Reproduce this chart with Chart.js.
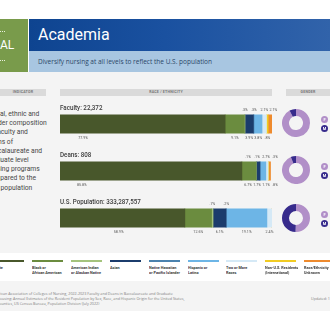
<!DOCTYPE html>
<html>
<head>
<meta charset="utf-8">
<script src="https://cdn.jsdelivr.net/npm/chart.js@4.4.0/dist/chart.umd.min.js"></script>
<style>
  html, body { margin: 0; padding: 0; width: 330px; height: 330px; overflow: hidden; background: #fff; }
  #page { position: relative; width: 330px; height: 330px; overflow: hidden; font-family: Roboto, "Open Sans", sans-serif; }
  .abs { position: absolute; }
  #main-bg { left: 0; top: 72px; width: 330px; height: 239px; background: #f4f4f4; }
  #goal { left: 0; top: 19px; width: 28px; height: 53px; background: #799b4b; color: #fff; font-size: 12px; line-height: 53px; }
  #goal .dots { position: absolute; left: 0; width: 5px; border-top: 1px dotted #e8f0dc; }
  #title { left: 29px; top: 19px; width: 301px; height: 32px; background: linear-gradient(90deg, #0e4490 0%, #1a51a0 45%, #3163aa 100%); }
  #title span { position: absolute; left: 9px; top: 6px; color: #fff; font-size: 16px; }
  #subtitle { left: 29px; top: 51px; width: 301px; height: 21px; background: #a8c6e1; }
  #subtitle span { position: absolute; left: 9px; top: 6px; color: #2b4768; font-family: "Open Sans", sans-serif; font-size: 6.5px; white-space: nowrap; }
  .sect { top: 89px; height: 7px; background: #dadada; color: #777; font-size: 3.6px; font-weight: bold; text-align: center; line-height: 7px; letter-spacing: 0.2px; }
  #indicator { left: -13px; top: 109px; font-size: 8px; line-height: 9.2px; color: #474747; white-space: nowrap; transform: scaleX(0.84); transform-origin: 0 0; }
  #bar-wrap { left: 40px; top: 95px; width: 250px; height: 150px; }
  .donut { width: 28px; height: 28px; left: 282px; }
  .badge { width: 7px; height: 7px; border-radius: 50%; color: #fff; font-size: 4px; font-weight: bold; text-align: center; line-height: 7px; left: 321px; }
  #legend-bg { left: 0; top: 253px; width: 330px; height: 28px; background: #fff; }
  .leg { top: 260px; width: 31px; }
  .leg .line { height: 2px; }
  .leg .txt { margin-top: 3px; font-size: 4.3px; line-height: 5px; font-weight: bold; color: #3a3a3a; white-space: nowrap; transform: scaleX(0.88); transform-origin: 0 0; }
  .foot { font-size: 3.7px; color: #808080; white-space: nowrap; font-family: "Open Sans", sans-serif; }
</style>
</head>
<body>
<div id="page">
  <div id="main-bg" class="abs"></div>
  <div id="goal" class="abs">AL
    <div class="dots" style="top:12px"></div>
    <div class="dots" style="top:41px"></div>
  </div>
  <div id="title" class="abs"><span>Academia</span></div>
  <div id="subtitle" class="abs"><span>Diversify nursing at all levels to reflect the U.S. population</span></div>

  <div class="abs sect" style="left:0;width:46px;">INDICATOR</div>
  <div class="abs sect" style="left:60px;width:212px;">RACE / ETHNICITY</div>
  <div class="abs sect" style="left:286px;width:44px;">GENDER</div>

  <div id="indicator" class="abs">Racial, ethnic and<br>gender composition<br>of faculty and<br>deans of<br>baccalaureate and<br>graduate level<br>nursing programs<br>compared to the<br>U.S. population</div>

  <div id="bar-wrap" class="abs"><canvas id="race-chart"></canvas></div>

  <div id="donut-0" class="abs donut" style="top:109px"><canvas width="28" height="28"></canvas></div>
  <div id="donut-1" class="abs donut" style="top:156px"><canvas width="28" height="28"></canvas></div>
  <div id="donut-2" class="abs donut" style="top:204px"><canvas width="28" height="28"></canvas></div>

  <div id="legend-bg" class="abs"></div>
  <div id="legend"></div>

  <div class="abs foot" style="left:-9px;top:291px;">American Association of Colleges of Nursing, 2022-2023 Faculty and Deans in Baccalaureate and Graduate</div>
  <div class="abs foot" style="left:-3px;top:296px;">Housing: Annual Estimates of the Resident Population by Sex, Race, and Hispanic Origin for the United States,</div>
  <div class="abs foot" style="left:-3px;top:301px;">Counties, US Census Bureau, Population Division (July 2022)</div>
  <div class="abs foot" style="left:311px;top:296px;">Updated: 11/2023</div>
</div>

<script>
// --- Dados ---
const categories = [
    'White', 'Black or African American', 'American Indian or Alaskan Native', 'Asian',
    'Native Hawaiian or Pacific Islander', 'Hispanic or Latino', 'Two or More Races',
    'Non-U.S. Residents (International)', 'Race/Ethnicity Unknown'
];
const legendText = [
    ['White'], ['Black or', 'African American'], ['American Indian', 'or Alaskan Native'], ['Asian'],
    ['Native Hawaiian', 'or Pacific Islander'], ['Hispanic or', 'Latino'], ['Two or More', 'Races'],
    ['Non-U.S. Residents', '(International)'], ['Race/Ethnicity', 'Unknown']
];
const rowTitles = ['Faculty: 22,372', 'Deans: 808', 'U.S. Population: 333,287,557'];
const faculty = [77.9, 9.1, 0.3, 3.9, 0.3, 3.8, 2.1, 0.8, 2.1];
const deans = [85.8, 6.7, 0.1, 1.7, 0.1, 2.7, 1.1, 0.3, 0.8];
const population = [58.9, 12.6, 0.7, 6.1, 0.2, 19.1, 2.4, 0, 0];

const genderLabels = ['F', 'M'];
const facultyGender = [92.4, 7.6];
const deansGender = [94.0, 6.0];
const populationGender = [50.5, 49.5];

// --- Cores e ajustes de layout ---
const raceColors = ['#48572b', '#6b8c3f', '#a4c37c', '#1b3c6c', '#4a82ae', '#6db5e6', '#d5e9f6', '#f1cb22', '#ee8a2d'];
const genderColors = ['#b18fc8', '#372b8c'];
// 1 = rótulo acima da barra, 0 = abaixo
const labelAbove = [
    [0, 0, 1, 0, 1, 0, 1, 0, 1],
    [0, 0, 1, 0, 1, 1, 0, 1, 0],
    [0, 0, 1, 0, 1, 0, 0, 0, 0]
];
const firstLabelPos = [0.14, 0.12, 0.47];

const rows = [faculty, deans, population];

// Legenda
const legendEl = document.getElementById('legend');
categories.forEach((c, i) => {
    const item = document.createElement('div');
    item.className = 'abs leg';
    item.style.left = (-7 + i * 38.9) + 'px';
    item.innerHTML = `<div class="line" style="background:${raceColors[i]}"></div><div class="txt">${legendText[i].join('<br>')}</div>`;
    legendEl.appendChild(item);
});

// Texto condensado no canvas (escala horizontal)
function narrowText(ctx, text, x, y, sx) {
    ctx.save();
    ctx.translate(x, y);
    ctx.scale(sx, 1);
    ctx.fillText(text, 0, 0);
    ctx.restore();
}

// Rótulos de percentual e títulos das linhas
const barLabels = {
    id: 'barLabels',
    afterDatasetsDraw(chart) {
        const ctx = chart.ctx;
        const area = chart.chartArea;
        const fmt = v => (v < 1 ? String(v).replace(/^0/, '') : v.toFixed(1)) + '%';
        rows.forEach((vals, j) => {
            const segs = vals.map((v, i) => {
                const el = chart.getDatasetMeta(i).data[j];
                return { v, i, x: (el.x + el.base) / 2, el };
            });
            const el0 = segs[0].el;
            const top = el0.y - el0.height / 2;
            const bottom = el0.y + el0.height / 2;

            ctx.save();
            ctx.fillStyle = '#3b3b3b';
            ctx.font = '500 7.8px Roboto, sans-serif';
            ctx.textAlign = 'left';
            ctx.textBaseline = 'middle';
            narrowText(ctx, rowTitles[j], area.left, top - 7, 0.8);

            ctx.font = '4.3px Roboto, sans-serif';
            ctx.fillStyle = '#555';
            ctx.textAlign = 'center';
            // primeiro segmento
            narrowText(ctx, fmt(vals[0]), el0.base + (el0.x - el0.base) * firstLabelPos[j], bottom + 5, 0.85);

            [1, 0].forEach(side => {
                const list = segs.filter(s => s.i > 0 && s.v > 0 && labelAbove[j][s.i] === side);
                const xs = list.map(s => s.x);
                const gap = 9;
                for (let k = 1; k < xs.length; k++) xs[k] = Math.max(xs[k], xs[k - 1] + gap);
                const cap = area.right + 3;
                if (xs.length && xs[xs.length - 1] > cap) {
                    xs[xs.length - 1] = cap;
                    for (let k = xs.length - 2; k >= 0; k--) xs[k] = Math.min(xs[k], xs[k + 1] - gap);
                }
                list.forEach((s, k) => narrowText(ctx, fmt(s.v), xs[k], side ? top - 5 : bottom + 5, 0.85));
            });
            ctx.restore();
        });
    }
};

new Chart(document.getElementById('race-chart'), {
    type: 'bar',
    data: {
        labels: rowTitles,
        datasets: categories.map((c, i) => ({
            label: c,
            data: rows.map(r => r[i]),
            backgroundColor: raceColors[i],
            borderWidth: 0,
            barThickness: 18.5
        }))
    },
    options: {
        indexAxis: 'y',
        responsive: true,
        maintainAspectRatio: false,
        animation: false,
        layout: { padding: { left: 20, right: 18, top: 5.5, bottom: 3.5 } },
        scales: {
            x: { stacked: true, min: 0, max: 100, display: false },
            y: { stacked: true, display: false }
        },
        plugins: { legend: { display: false }, tooltip: { enabled: false } }
    },
    plugins: [barLabels]
});

// Gráficos de gênero
[facultyGender, deansGender, populationGender].forEach((vals, k) => {
    const box = document.getElementById('donut-' + k);
    new Chart(box.querySelector('canvas'), {
        type: 'doughnut',
        data: {
            labels: genderLabels,
            datasets: [{ data: vals, backgroundColor: genderColors, borderWidth: 0 }]
        },
        options: {
            responsive: false,
            animation: false,
            cutout: '50%',
            plugins: { legend: { display: false }, tooltip: { enabled: false } }
        }
    });
    genderLabels.forEach((g, i) => {
        const b = document.createElement('div');
        b.className = 'abs badge';
        b.style.top = (parseFloat(box.style.top) + 6.5 + i * 9) + 'px';
        b.style.background = genderColors[i];
        b.textContent = g;
        document.getElementById('page').appendChild(b);
    });
});
</script>
</body>
</html>
